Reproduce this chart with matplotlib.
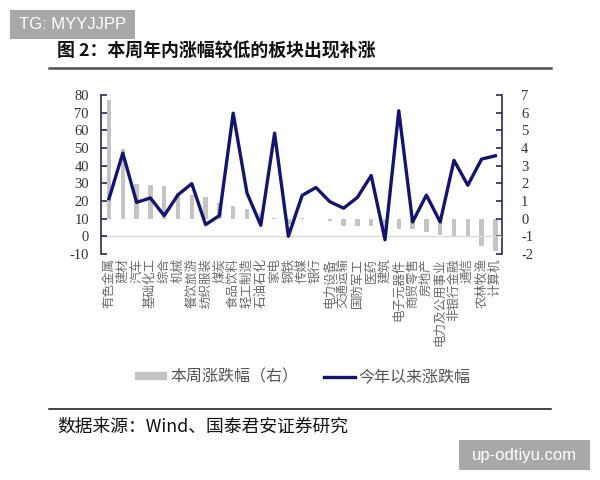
import numpy as np
import matplotlib
matplotlib.use('Agg')
import matplotlib.pyplot as plt
from matplotlib.patches import Patch, Rectangle
from matplotlib.lines import Line2D

plt.rcParams['font.family'] = ['Noto Sans CJK SC', 'DejaVu Sans']

# 行业板块
sectors = ['有色金属', '建材', '汽车', '基础化工', '综合', '机械', '餐饮旅游', '纺织服装',
           '煤炭', '食品饮料', '轻工制造', '石油石化', '家电', '钢铁', '传媒', '银行',
           '电力设备', '交通运输', '国防军工', '医药', '建筑', '电子元器件', '商贸零售',
           '房地产', '电力及公用事业', '非银行金融', '通信', '农林牧渔', '计算机']

# 本周涨跌幅 (右轴, %)
weekChg = [6.7, 3.95, 1.95, 1.9, 1.83, 1.45, 1.35, 1.22, 0.89, 0.7, 0.55, 0.3, 0.05,
           -0.3, 0.03, -0.05, -0.12, -0.4, -0.4, -0.43, -0.5, -0.6, -0.6, -0.74,
           -0.93, -1.05, -1.05, -1.57, -1.85]

# 今年以来涨跌幅 (左轴, %)
ytdChg = [21.3, 47.1, 19.2, 21.7, 11.7, 23.5, 29.8, 6.6, 11.7, 69.7, 24.5, 6.2, 58.4,
          0.0, 23.2, 27.6, 19.6, 15.9, 22.0, 34.4, -2.0, 71.1, 8.1, 23.3, 8.1, 43.0,
          28.9, 43.7, 45.6]

leftTicks = [-10, 0, 10, 20, 30, 40, 50, 60, 70, 80]
rightTicks = [-2, -1, 0, 1, 2, 3, 4, 5, 6, 7]

navy = '#14146e'
barGray = '#c4c4c4'
spineCol = '#2a2a50'
serif = ['Liberation Serif', 'DejaVu Serif']

fig = plt.figure(figsize=(6, 4.8), dpi=100)
ax = fig.add_axes([0.169, 0.471, 0.667, 0.331])
ax2 = ax.twinx()

x = np.arange(len(sectors))

# bars on right axis, line on left axis (kept on top)
ax2.bar(x, weekChg, width=0.33, color=barGray, zorder=1)
ax.axhline(0, color='#d8d8d8', lw=1, zorder=0)
ax.plot(x, ytdChg, color=navy, lw=2.4, zorder=3)
ax.set_zorder(ax2.get_zorder() + 1)
ax.patch.set_visible(False)

ax.set_xlim(-0.55, 28.45)
ax.set_ylim(-10, 80)
ax2.set_ylim(-2, 7)
ax.set_yticks(leftTicks)
ax2.set_yticks(rightTicks)
ax.set_yticklabels([str(v) for v in leftTicks], family=serif, fontsize=10.5, color='#333333')
ax2.set_yticklabels([str(v) for v in rightTicks], family=serif, fontsize=10.5, color='#333333')

for a in (ax, ax2):
    a.spines['top'].set_visible(False)
    a.spines['bottom'].set_visible(False)
ax.spines['right'].set_visible(False)
ax2.spines['left'].set_visible(False)
ax.spines['left'].set_color(spineCol)
ax2.spines['right'].set_color(spineCol)
ax.spines['left'].set_linewidth(1.2)
ax2.spines['right'].set_linewidth(1.2)
ax.tick_params(axis='y', direction='in', length=4, width=1.2, color=spineCol, pad=9)
ax2.tick_params(axis='y', direction='in', length=4, width=1.2, color=spineCol, pad=14)

ax.set_xticks(x)
ax.set_xticklabels(sectors, rotation=90, fontsize=9, color='#6a6a6a', va='top')
ax.tick_params(axis='x', length=0, pad=3)
ax2.tick_params(axis='x', length=0)

# legend
handles = [Patch(color=barGray, label='本周涨跌幅（右）'),
           Line2D([0], [0], color=navy, lw=2.4, label='今年以来涨跌幅')]
fig.legend(handles=handles, loc='center', bbox_to_anchor=(0.505, 0.215), ncol=2,
           frameon=False, fontsize=11.5, labelcolor='#555555', handlelength=1.95,
           handleheight=0.35, columnspacing=1.6, handletextpad=0.25)

# title and rules
fig.text(0.095, 0.892, '图 2：本周年内涨幅较低的板块出现补涨', fontsize=12.9,
         fontweight='bold', color='#111111', va='center')
fig.add_artist(Line2D([0.082, 0.918], [0.858, 0.858], color='#505050', lw=1.8))
fig.add_artist(Line2D([0.082, 0.918], [0.148, 0.148], color='#111111', lw=1.1))
fig.text(0.095, 0.110, '数据来源：Wind、国泰君安证券研究', fontsize=12.8,
         color='#111111', va='center')

# watermarks
fig.add_artist(Rectangle((0.0167, 0.919), 0.208, 0.0604, transform=fig.transFigure,
                         fc='#a8a8a8', ec='none'))
fig.text(0.121, 0.949, 'TG: MYYJJPP', family='Liberation Sans', fontsize=12,
         color='white', ha='center', va='center')
fig.add_artist(Rectangle((0.765, 0.0208), 0.218, 0.0625, transform=fig.transFigure,
                         fc='#a8a8a8', ec='none'))
fig.text(0.874, 0.052, 'up-odtiyu.com', family='Liberation Sans', fontsize=12,
         color='white', ha='center', va='center')

fig.savefig('out.png', dpi=100, facecolor='white')
